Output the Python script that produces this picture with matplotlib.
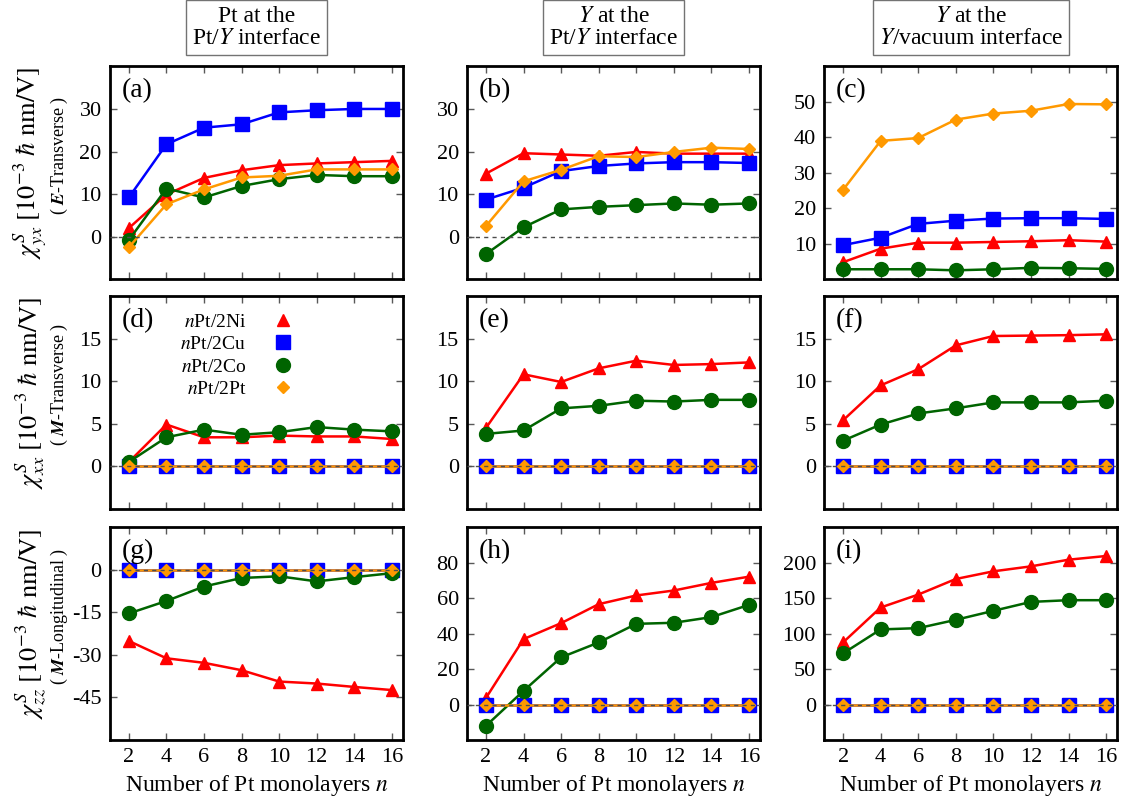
import matplotlib
matplotlib.use("Agg")
import matplotlib.pyplot as plt
from matplotlib.lines import Line2D

plt.rcParams["font.family"] = ["Liberation Serif", "DejaVu Serif"]
plt.rcParams["mathtext.fontset"] = "stix"
plt.rcParams["axes.unicode_minus"] = False

n = [2, 4, 6, 8, 10, 12, 14, 16]

# row 1: chi_yx (E-Transverse)
a_ni = [2.0, 9.9, 13.8, 15.6, 16.8, 17.2, 17.5, 17.8]
a_cu = [9.2, 21.7, 25.6, 26.4, 29.2, 29.7, 30.0, 30.0]
a_co = [-0.8, 11.3, 9.2, 11.9, 13.5, 14.5, 14.2, 14.2]
a_pt = [-2.5, 7.6, 11.1, 13.9, 14.3, 15.8, 15.8, 15.8]

b_ni = [14.8, 19.6, 19.3, 19.0, 19.9, 19.5, 19.5, 19.5]
b_cu = [8.7, 11.5, 15.4, 16.6, 17.2, 17.5, 17.5, 17.3]
b_co = [-4.1, 2.2, 6.4, 7.0, 7.4, 7.8, 7.5, 7.8]
b_pt = [2.5, 13.0, 15.7, 18.9, 18.7, 19.9, 20.9, 20.6]

c_ni = [4.8, 8.6, 10.3, 10.3, 10.5, 10.7, 11.0, 10.6]
c_cu = [9.6, 11.7, 15.6, 16.5, 17.1, 17.2, 17.2, 17.0]
c_co = [2.8, 2.8, 2.8, 2.5, 2.8, 3.2, 3.1, 2.9]
c_pt = [25.2, 39.0, 39.8, 45.0, 46.7, 47.5, 49.4, 49.3]

# row 2: chi_xx (M-Transverse)
d_ni = [0.5, 4.9, 3.4, 3.4, 3.6, 3.5, 3.5, 3.2]
d_co = [0.5, 3.4, 4.3, 3.7, 4.0, 4.6, 4.3, 4.1]
e_ni = [4.5, 10.8, 9.9, 11.5, 12.4, 11.9, 12.0, 12.2]
e_co = [3.8, 4.2, 6.8, 7.1, 7.7, 7.6, 7.8, 7.8]
f_ni = [5.4, 9.5, 11.4, 14.2, 15.3, 15.35, 15.4, 15.5]
f_co = [3.0, 4.9, 6.2, 6.8, 7.5, 7.5, 7.5, 7.7]

# row 3: chi_zz (M-Longitudinal)
g_ni = [-25.1, -31.2, -32.8, -35.4, -39.4, -40.1, -41.3, -42.4]
g_co = [-15.4, -11.0, -5.9, -2.9, -2.3, -4.1, -2.6, -1.2]
h_ni = [3.7, 36.9, 45.9, 56.6, 61.5, 64.3, 68.6, 72.1]
h_co = [-12.0, 7.7, 26.6, 35.0, 45.5, 46.1, 49.3, 56.2]
i_ni = [87.6, 136.8, 155.0, 177.0, 187.8, 194.8, 204.2, 209.4]
i_co = [72.1, 105.9, 107.7, 119.4, 132.1, 144.7, 147.1, 147.1]

# Cu and Pt caps give no M-odd response
m_cu = [0, 0, 0, 0, 0, 0, 0, 0]
m_pt = [0, 0, 0, 0, 0, 0, 0, 0]

panels = [
    ("(a)", a_ni, a_cu, a_co, a_pt, (-10, 40), [0, 10, 20, 30]),
    ("(b)", b_ni, b_cu, b_co, b_pt, (-10, 40), [0, 10, 20, 30]),
    ("(c)", c_ni, c_cu, c_co, c_pt, (0, 60), [10, 20, 30, 40, 50]),
    ("(d)", d_ni, m_cu, d_co, m_pt, (-5, 20), [0, 5, 10, 15]),
    ("(e)", e_ni, m_cu, e_co, m_pt, (-5, 20), [0, 5, 10, 15]),
    ("(f)", f_ni, m_cu, f_co, m_pt, (-5, 20), [0, 5, 10, 15]),
    ("(g)", g_ni, m_cu, g_co, m_pt, (-60, 15), [0, -15, -30, -45]),
    ("(h)", h_ni, m_cu, h_co, m_pt, (-20, 100), [0, 20, 40, 60, 80]),
    ("(i)", i_ni, m_cu, i_co, m_pt, (-50, 250), [0, 50, 100, 150, 200]),
]

col_titles = ["Pt at the\nPt/$Y$ interface",
              "$Y$ at the\nPt/$Y$ interface",
              "$Y$ at the\n$Y$/vacuum interface"]
row_labels = [r"$\chi^{S}_{yx}\ \left[10^{-3}\ \hbar\ \mathrm{nm/V}\right]$",
              r"$\chi^{S}_{xx}\ \left[10^{-3}\ \hbar\ \mathrm{nm/V}\right]$",
              r"$\chi^{S}_{zz}\ \left[10^{-3}\ \hbar\ \mathrm{nm/V}\right]$"]
row_sub = [r"( $\mathbfit{E}$-Transverse )",
           r"( $\mathbfit{M}$-Transverse )",
           r"( $\mathbfit{M}$-Longitudinal )"]

RED, BLUE, GREEN, ORANGE = "#ff0000", "#0000ff", "#006400", "#ff9900"

fig = plt.figure(figsize=(11.23, 8), dpi=100)

lefts = [0.098, 0.416, 0.734]
bottoms = [0.651, 0.364, 0.075]
w, h = 0.261, 0.266

for k, (tag, ni, cu, co, pt, ylim, yticks) in enumerate(panels):
    r, c = divmod(k, 3)
    ax = fig.add_axes([lefts[c], bottoms[r], w, h])
    ax.axhline(0, color="0.3", lw=1, ls=(0, (3, 3)), zorder=5)
    ax.plot(n, ni, "-^", color=RED, lw=1.8, ms=9)
    ax.plot(n, cu, "-s", color=BLUE, lw=1.8, ms=10)
    ax.plot(n, co, "-o", color=GREEN, lw=1.8, ms=10)
    ax.plot(n, pt, "-D", color=ORANGE, lw=1.8, ms=6.5)
    ax.set_xlim(1, 16.6)
    ax.set_ylim(*ylim)
    ax.set_xticks(n)
    ax.set_yticks(yticks)
    ax.tick_params(direction="in", top=True, right=True, length=5, width=1,
                   color="0.35", labelsize=16, pad=6)
    for s in ax.spines.values():
        s.set_linewidth(2)
    if r < 2:
        ax.tick_params(labelbottom=False)
    else:
        ax.set_xlabel("Number of Pt monolayers $n$", fontsize=17, labelpad=4)
    ax.text(0.04, 0.885, tag, transform=ax.transAxes, fontsize=20,
            ha="left", va="center")
    if tag == "(d)":
        handles = [Line2D([], [], ls="none", marker="^", color=RED, ms=9),
                   Line2D([], [], ls="none", marker="s", color=BLUE, ms=10),
                   Line2D([], [], ls="none", marker="o", color=GREEN, ms=10),
                   Line2D([], [], ls="none", marker="D", color=ORANGE, ms=6.5)]
        labels = ["$n$Pt/2Ni", "$n$Pt/2Cu", "$n$Pt/2Co", "$n$Pt/2Pt"]
        ax.legend(handles, labels, loc="upper left", bbox_to_anchor=(0.24, 0.92),
                  frameon=False, markerfirst=False, fontsize=14,
                  handlelength=1.0, handletextpad=1.4, labelspacing=0.25,
                  borderaxespad=0, borderpad=0)

for c, title in enumerate(col_titles):
    fig.text(lefts[c] + w / 2, 0.966, title, ha="center", va="center",
             fontsize=17, multialignment="center", linespacing=1.05,
             bbox=dict(boxstyle="square,pad=0.25", fc="white", ec="0.45", lw=1))

for r in range(3):
    yc = bottoms[r] + h / 2 + 0.012
    fig.text(0.027, yc, row_labels[r], rotation=90, ha="center", va="center",
             fontsize=19)
    fig.text(0.053, yc + 0.01, row_sub[r], rotation=90, ha="center", va="center",
             fontsize=13)

fig.savefig("out.png", dpi=100)
